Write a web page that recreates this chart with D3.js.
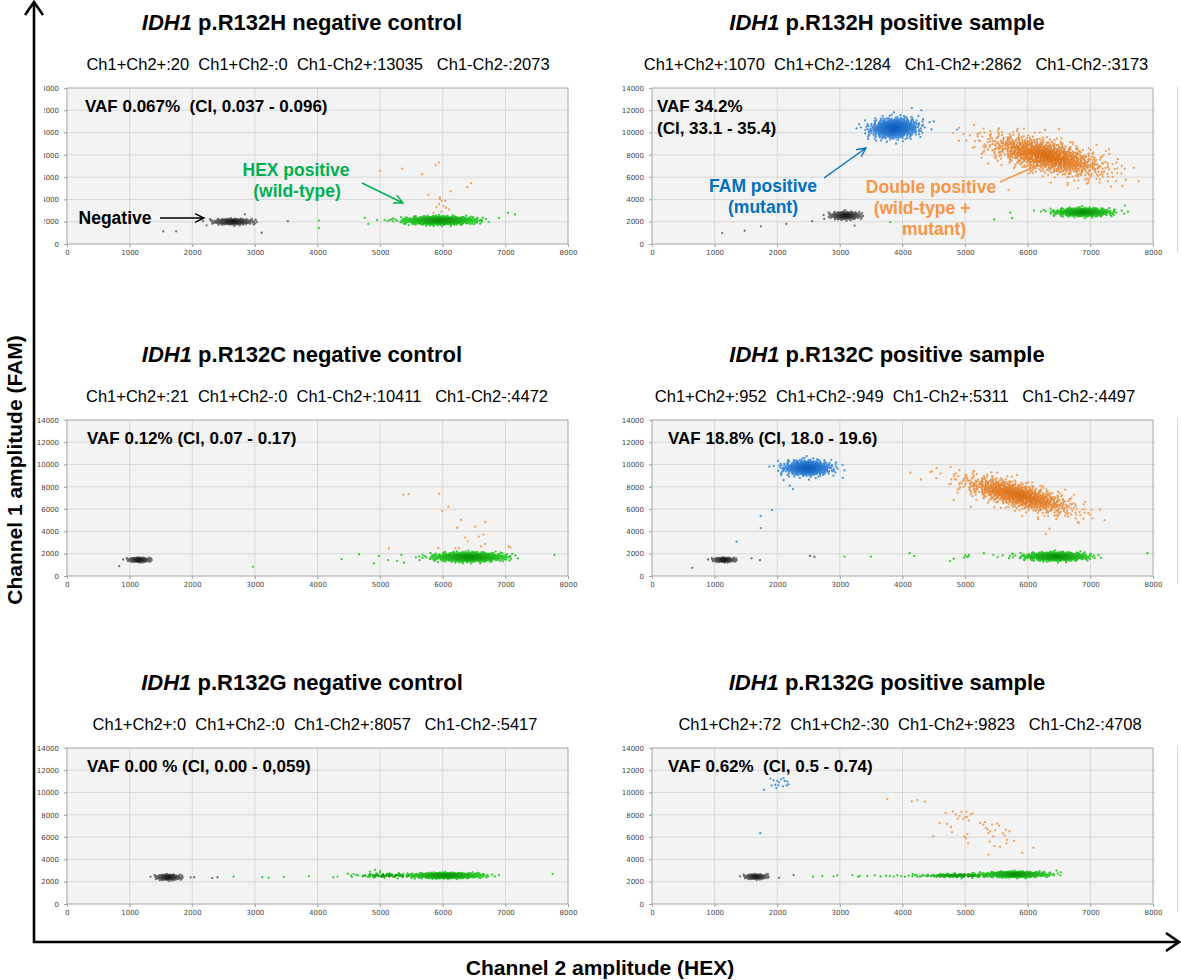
<!DOCTYPE html>
<html>
<head>
<meta charset="utf-8">
<script src="https://cdn.jsdelivr.net/npm/d3@7"></script>
<style>
  body { margin: 0; background: #fff; }
  svg text { font-family: "Liberation Sans", Arial, Helvetica, sans-serif; }
</style>
</head>
<body>
<script>
//panels are listed row by row, left (negative control) then right (positive sample)
var gene = "IDH1";
var variants = ["p.R132H negative control", "p.R132H positive sample",
                "p.R132C negative control", "p.R132C positive sample",
                "p.R132G negative control", "p.R132G positive sample"];
var counts = ["Ch1+Ch2+:20  Ch1+Ch2-:0  Ch1-Ch2+:13035   Ch1-Ch2-:2073",
              "Ch1+Ch2+:1070  Ch1+Ch2-:1284   Ch1-Ch2+:2862   Ch1-Ch2-:3173",
              "Ch1+Ch2+:21  Ch1+Ch2-:0  Ch1-Ch2+:10411   Ch1-Ch2-:4472",
              "Ch1+Ch2+:952  Ch1+Ch2-:949  Ch1-Ch2+:5311   Ch1-Ch2-:4497",
              "Ch1+Ch2+:0  Ch1+Ch2-:0  Ch1-Ch2+:8057   Ch1-Ch2-:5417",
              "Ch1+Ch2+:72  Ch1+Ch2-:30  Ch1-Ch2+:9823   Ch1-Ch2-:4708"];
var vafText = [["VAF 0.067%  (CI, 0.037 - 0.096)"],
               ["VAF 34.2%", "(CI, 33.1 - 35.4)"],
               ["VAF 0.12% (CI, 0.07 - 0.17)"],
               ["VAF 18.8% (CI, 18.0 - 19.6)"],
               ["VAF 0.00 % (CI, 0.00 - 0,059)"],
               ["VAF 0.62%  (CI, 0.5 - 0.74)"]];
var xTicks = [0, 1000, 2000, 3000, 4000, 5000, 6000, 7000, 8000];
var yTicks = [0, 2000, 4000, 6000, 8000, 10000, 12000, 14000];

//dense droplet clouds: panel, type, centre HEX, centre FAM, spread HEX, spread FAM, droplets drawn, tilt
var clusters = [
  [0, "neg", 2650, 2000, 150, 120, 380, 0],
  [0, "hex", 5950, 2100, 250, 160, 1400, 0],
  [1, "neg", 3090, 2550, 110, 150, 420, 0],
  [1, "fam", 3870, 10400, 190, 440, 700, 0.3],
  [1, "dp", 6300, 7900, 470, 720, 1150, -1.2],
  [1, "hex", 6880, 2850, 210, 170, 700, 0],
  [2, "neg", 1150, 1450, 80, 85, 330, 0],
  [2, "hex", 6420, 1700, 250, 180, 1300, 0],
  [3, "neg", 1150, 1450, 80, 85, 330, 0],
  [3, "fam", 2480, 9700, 190, 330, 600, 0],
  [3, "dp", 5850, 7250, 440, 560, 1000, -1.35],
  [3, "hex", 6450, 1750, 230, 170, 900, 0],
  [4, "neg", 1620, 2400, 90, 110, 330, 0],
  [4, "hex", 6050, 2550, 250, 105, 1100, 0],
  [4, "hex", 5100, 2550, 250, 90, 70, 0],
  [5, "neg", 1660, 2450, 80, 95, 280, 0],
  [5, "hex", 5800, 2650, 230, 110, 900, 0],
  [5, "hex", 4900, 2550, 300, 80, 130, 0]
];

//single droplets read one by one: panel, type, HEX, FAM
var droplets = [
  [0,"neg",1537,1130],[0,"neg",1743,1130],[0,"neg",2229,1680],[0,"neg",3109,1010],[0,"neg",3526,2045],[0,"neg",2840,2650],
  [0,"hex",4023,2100],[0,"hex",4023,1430],[0,"hex",4754,2350],[0,"hex",4811,1800],[0,"hex",5183,2200],[0,"hex",5070,2150],
  [0,"hex",7040,2800],[0,"hex",7154,2650],[0,"hex",6897,2350],[0,"hex",4950,2150],[0,"hex",5120,2050],
  [0,"dp",5000,6560],[0,"dp",5354,6770],[0,"dp",5669,6260],[0,"dp",5886,7090],[0,"dp",5937,7300],[0,"dp",6126,4730],
  [0,"dp",6451,5460],[0,"dp",6394,5100],[0,"dp",5771,4400],[0,"dp",5954,4180],[0,"dp",5983,3880],[0,"dp",6040,3880],
  [0,"dp",5943,3570],[0,"dp",6011,3420],[0,"dp",6051,3260],[0,"dp",5954,4030],[0,"dp",5900,3300],[0,"dp",5980,2900],
  [0,"dp",6100,3100],[0,"dp",5850,2800],
  [1,"neg",1120,980],[1,"neg",1480,1190],[1,"neg",1738,1590],[1,"neg",2145,1800],[1,"neg",2558,2050],[1,"neg",3235,1650],[1,"neg",2750,2250],
  [1,"fam",1767,3790],[1,"fam",4871,10270],[1,"fam",4500,11000],[1,"fam",4300,12000],[1,"fam",4150,12200],
  [1,"hex",3805,1960],[1,"hex",5464,2200],[1,"hex",5722,2810],[1,"hex",5752,2320],[1,"hex",7550,3450],[1,"hex",7600,2900],[1,"hex",6100,3000],
  [1,"dp",5692,4860],[1,"dp",5075,9755],[1,"dp",5200,9900],[1,"dp",5400,10100],[1,"dp",7500,7000],[1,"dp",7300,8500],
  [1,"dp",6500,10300],[1,"dp",7150,5500],[1,"dp",6800,5000],[1,"dp",5700,9400],
  [2,"neg",833,884],
  [2,"hex",2970,820],[2,"hex",4383,1520],[2,"hex",4665,1950],[2,"hex",4900,1130],[2,"hex",4980,1800],[2,"hex",5130,1430],
  [2,"hex",5272,1340],[2,"hex",5340,1890],[2,"hex",5380,1190],[2,"hex",7783,1890],[2,"hex",5570,1680],[2,"hex",5630,1430],
  [2,"dp",5370,7290],[2,"dp",5457,7350],[2,"dp",5945,7380],[2,"dp",6089,6220],[2,"dp",5990,5850],[2,"dp",6290,5030],
  [2,"dp",6230,4330],[2,"dp",6355,3450],[2,"dp",6520,4420],[2,"dp",6680,4850],[2,"dp",6575,3540],[2,"dp",6650,3720],
  [2,"dp",6400,3110],[2,"dp",5930,2500],[2,"dp",5140,2470],[2,"dp",6200,2500],[2,"dp",6260,2500],[2,"dp",6675,2870],
  [2,"dp",6610,2650],[2,"dp",7050,2650],[2,"dp",7080,2560],
  [3,"neg",643,730],[3,"neg",1590,1590],[3,"neg",1724,1430],[3,"neg",2523,1800],[3,"neg",2595,1710],
  [3,"fam",1351,3080],[3,"fam",1735,4300],[3,"fam",1735,5370],[3,"fam",1916,5915],[3,"fam",3045,8810],[3,"fam",2100,8600],
  [3,"fam",2200,8100],[3,"fam",2250,7800],
  [3,"hex",3075,1740],[3,"hex",3495,1740],[3,"hex",4114,2040],[3,"hex",4186,1800],[3,"hex",4757,1340],[3,"hex",4817,1550],
  [3,"hex",5300,2040],[3,"hex",7910,2040],[3,"hex",5000,1850],[3,"hex",5030,1700],[3,"hex",5060,1900],[3,"hex",5050,1750],
  [3,"hex",4980,1650],[3,"hex",5450,1900],[3,"hex",5520,1700],[3,"hex",5600,1850],[3,"hex",5700,1600],[3,"hex",5750,2000],
  [3,"dp",4126,9270],[3,"dp",4294,8660],[3,"dp",4474,9390],[3,"dp",4817,6830],[3,"dp",5087,6220],[3,"dp",6288,3780],
  [3,"dp",6348,4240],[3,"dp",6800,4800],[3,"dp",7000,5500],
  [4,"neg",1974,2385],[4,"neg",2031,2400],[4,"neg",2318,2324],[4,"neg",2403,2400],
  [4,"hex",2661,2450],[4,"hex",3119,2400],[4,"hex",3220,2350],[4,"hex",3462,2420],[4,"hex",3863,2480],[4,"hex",4252,2400],
  [4,"hex",4320,2460],[4,"hex",4578,2690],[4,"hex",4721,2500],[4,"hex",4835,2900],[4,"hex",4921,3060],[4,"hex",4996,2800],
  [4,"hex",5064,2500],[4,"hex",5150,2750],[4,"hex",5236,2550],[4,"hex",5350,2450],[4,"hex",7754,2690],[4,"hex",6896,2600],
  [4,"hex",4650,2550],[4,"hex",4900,2600],[4,"hex",5000,2950],[4,"hex",5200,2450],[4,"hex",5300,2600],
  [5,"neg",2030,2350],[5,"neg",2260,2600],[5,"neg",1850,2700],
  [5,"hex",2569,2450],[5,"hex",2719,2520],[5,"hex",2899,2480],[5,"hex",2959,2560],[5,"hex",3199,2600],[5,"hex",3289,2450],
  [5,"hex",3319,2520],[5,"hex",3439,2500],[5,"hex",3559,2560],[5,"hex",3649,2470],[5,"hex",3739,2540],[5,"hex",3799,2500],
  [5,"hex",3859,2460],[5,"hex",3919,2580],[5,"hex",3979,2500],[5,"hex",4039,2450],[5,"hex",4099,2540],[5,"hex",4159,2490],
  [5,"hex",4219,2600],[5,"hex",4279,2470],[5,"hex",4339,2550],[5,"hex",4399,2480],[5,"hex",4489,2620],[5,"hex",4549,2500],
  [5,"hex",4609,2700],[5,"hex",4669,2560],[5,"hex",4729,2480],[5,"hex",4789,2640],[5,"hex",4849,2520],[5,"hex",4909,2580],
  [5,"hex",4999,2690],[5,"hex",5059,2540],[5,"hex",5119,2620],[5,"hex",5179,2480],[5,"hex",5239,2580],[5,"hex",6460,3000],
  [5,"hex",6530,2840],
  [5,"fam",1891,11254],[5,"fam",1939,11100],[5,"fam",1999,11050],[5,"fam",2059,11190],[5,"fam",2119,11040],[5,"fam",2161,10980],
  [5,"fam",1909,10640],[5,"fam",1969,10700],[5,"fam",2017,10650],[5,"fam",2089,10550],[5,"fam",2149,10640],[5,"fam",1789,10244],
  [5,"fam",2179,10730],[5,"fam",1987,10400],[5,"fam",2029,10920],[5,"fam",2100,11300],[5,"fam",1729,6360],
  [5,"dp",3758,9420],[5,"dp",4148,9200],[5,"dp",4238,9330],[5,"dp",4358,9180],[5,"dp",4490,6060],[5,"dp",4592,7280],
  [5,"dp",4688,8170],[5,"dp",4712,7190],[5,"dp",4772,6910],[5,"dp",4790,6450],[5,"dp",4808,8290],[5,"dp",4850,8040],
  [5,"dp",4880,7650],[5,"dp",4910,7890],[5,"dp",4940,8290],[5,"dp",4970,7620],[5,"dp",5000,7800],[5,"dp",5018,8290],
  [5,"dp",5030,7800],[5,"dp",5060,7500],[5,"dp",5090,8040],[5,"dp",5120,8140],[5,"dp",4988,6060],[5,"dp",5012,5900],
  [5,"dp",5036,6270],[5,"dp",5048,5440],[5,"dp",5240,7280],[5,"dp",5288,7130],[5,"dp",5318,7340],[5,"dp",5330,6820],
  [5,"dp",5360,6670],[5,"dp",5372,6360],[5,"dp",5402,6510],[5,"dp",5432,7130],[5,"dp",5480,6610],[5,"dp",5510,7220],
  [5,"dp",5540,7040],[5,"dp",5450,6060],[5,"dp",5390,5600],[5,"dp",5372,4440],[5,"dp",5468,5200],[5,"dp",5558,5140],
  [5,"dp",5600,6360],[5,"dp",5630,6150],[5,"dp",5648,6670],[5,"dp",5672,5750],[5,"dp",5708,6510],[5,"dp",5660,5440],
  [5,"dp",5780,5660],[5,"dp",5912,4590],[5,"dp",6092,5050]
];

//core and rim colours of each droplet type
var dropColor = {
  neg: ["#161616", "#707070"],
  hex: ["#0c920c", "#33cc33"],
  fam: ["#0b5cbc", "#4a93e0"],
  dp:  ["#d96d12", "#f0a25e"]
};

var colLeft = [67, 652];
var rowTop = [88, 420, 748];
var plotW = 501, plotH = 156;
var countCentre = [251, 244, 250, 243, 248, 258];
var vafLeft = [18, 5, 20, 16, 20, 16];

var svg = d3.select("body").append("svg")
            .attr("width", 1181)
            .attr("height", 980);

function initialize(){
  drawFrame();
  for (var i=0; i<variants.length; i++) {
    drawPanel(i);
  };
  drawNotes();
};

//radical inverse, used to spread the droplets of a cloud evenly
function halton(i, b){
  var f = 1, r = 0;
  while (i > 0) {
    f = f / b;
    r = r + f * (i % b);
    i = Math.floor(i / b);
  };
  return r;
};

function drawFrame(){
  var frame = svg.append("g");
  frame.append("path")
       .attr("d", "M34,943 L34,2 M25,15 L34,2 L43,15")
       .attr("fill", "none").attr("stroke", "#000").attr("stroke-width", 2.6);
  frame.append("path")
       .attr("d", "M33,942 L1179,942 M1166,933 L1179,942 L1166,951")
       .attr("fill", "none").attr("stroke", "#000").attr("stroke-width", 2.6);
  frame.append("text")
       .attr("transform", "translate(22,470) rotate(-90)")
       .attr("text-anchor", "middle")
       .style("font-size", "21px").style("font-weight", "bold")
       .text("Channel 1 amplitude (FAM)");
  frame.append("text")
       .attr("x", 600).attr("y", 975)
       .attr("text-anchor", "middle")
       .style("font-size", "21px").style("font-weight", "bold")
       .text("Channel 2 amplitude (HEX)");
};

function drawPanel(i){
  var col = i % 2, row = Math.floor(i / 2);
  var left = colLeft[col], top = rowTop[row];

  var x = d3.scaleLinear().domain([0, 8000]).range([0, plotW]);
  var y = d3.scaleLinear().domain([0, 14000]).range([plotH, 0]);

  //title with italic gene name
  var title = svg.append("text")
                 .attr("x", left + 235).attr("y", top - 58)
                 .attr("text-anchor", "middle")
                 .style("font-size", "22px").style("font-weight", "bold");
  title.append("tspan").style("font-style", "italic").text(gene);
  title.append("tspan").text(" " + variants[i]);

  svg.append("text")
     .attr("x", left + countCentre[i]).attr("y", top - 18)
     .attr("text-anchor", "middle")
     .style("font-size", "16.5px").style("white-space", "pre")
     .text(counts[i]);

  var g = svg.append("g").attr("transform", "translate(" + left + "," + top + ")");

  g.append("rect")
   .attr("width", plotW).attr("height", plotH)
   .attr("fill", "#f3f3f3");

  //grid
  g.selectAll(".gx").data(xTicks.slice(1, -1)).enter().append("line")
   .attr("x1", function(d) { return x(d) }).attr("x2", function(d) { return x(d) })
   .attr("y1", 0).attr("y2", plotH + 3)
   .attr("stroke", "#d9d9d9");
  g.selectAll(".gy").data(yTicks.slice(1, -1)).enter().append("line")
   .attr("x1", -3).attr("x2", plotW + 2)
   .attr("y1", function(d) { return y(d) }).attr("y2", function(d) { return y(d) })
   .attr("stroke", "#d9d9d9");

  var xAxis = g.append("g")
               .attr("transform", "translate(0," + plotH + ")")
               .call(d3.axisBottom(x).tickValues(xTicks).tickSize(3).tickPadding(3).tickFormat(d3.format("d")));
  var yAxis = g.append("g")
               .call(d3.axisLeft(y).tickValues(yTicks).tickSize(3).tickPadding(5).tickFormat(d3.format("d")));
  [xAxis, yAxis].forEach(function(a) {
    a.select(".domain").remove();
    a.selectAll("line").attr("stroke", "#a6a6a6");
    a.selectAll("text").style("font-size", "7px").attr("fill", "#444")
     .style("font-family", "'DejaVu Sans', sans-serif");
  });

  //the top-left panel's labels are cut by the big axis
  if (i == 0) {
    svg.append("clipPath").attr("id", "cutLabels")
       .append("rect").attr("x", -left + 44).attr("y", -20).attr("width", 100).attr("height", plotH + 40);
    yAxis.attr("clip-path", "url(#cutLabels)");
  };

  g.append("rect")
   .attr("width", plotW).attr("height", plotH)
   .attr("fill", "none").attr("stroke", "#a6a6a6");

  if (col == 1) {
    svg.append("line")
       .attr("x1", 1177.5).attr("x2", 1177.5)
       .attr("y1", top - 2).attr("y2", top + plotH + 8)
       .attr("stroke", "#d4d4d4");
  };

  //droplets of the dense clouds
  var points = [];
  clusters.forEach(function(c) {
    if (c[0] != i) return;
    var paint = d3.interpolateRgb(dropColor[c[1]][0], dropColor[c[1]][1]);
    for (var k=1; k<=c[6]; k++) {
      var r = Math.min(3.2, Math.sqrt(-2 * Math.log(halton(k, 2))));
      var a = 2 * Math.PI * halton(k, 3);
      var dx = c[4] * r * Math.cos(a);
      var dy = c[5] * r * Math.sin(a);
      points.push({hex: c[2] + dx, fam: c[3] + dy + c[7] * dx, r: r, color: paint(Math.min(1, r / 2.2))});
    };
  });
  droplets.forEach(function(d) {
    if (d[0] == i) points.push({hex: d[2], fam: d[3], r: 9, color: dropColor[d[1]][1]});
  });
  points.sort(function(a, b) { return b.r - a.r });

  g.append("g").selectAll("circle")
   .data(points).enter().append("circle")
   .attr("cx", function(d) { return x(d.hex) })
   .attr("cy", function(d) { return y(d.fam) })
   .attr("r", 1.15)
   .attr("fill", function(d) { return d.color });

  //VAF label
  var vaf = g.append("text")
             .attr("x", vafLeft[i]).attr("y", 24)
             .style("font-size", "17px").style("font-weight", "bold").style("white-space", "pre");
  vafText[i].forEach(function(t, n) {
    vaf.append("tspan").attr("x", vafLeft[i]).attr("dy", n == 0 ? 0 : 22).text(t);
  });
};

//hand-drawn call-outs of the first row
function drawNotes(){
  var notes = [
    {color: "#000000", lines: ["Negative"], shift: [0], x: 115, y: 224, arrow: [160, 218, 204, 218]},
    {color: "#00b050", lines: ["HEX positive", "(wild-type)"], shift: [0, 1], x: 296, y: 176, arrow: [362, 183, 403, 203]},
    {color: "#0070c0", lines: ["FAM positive", "(mutant)"], shift: [0, 0], x: 763, y: 192, arrow: [824, 178, 866, 148]},
    {color: "#f79646", lines: ["Double positive", "(wild-type +", "mutant)"], shift: [0, -9, 3], x: 931, y: 193, arrow: [1000, 182, 1036, 166]}
  ];
  notes.forEach(function(n) {
    var t = svg.append("text")
               .attr("text-anchor", "middle")
               .attr("fill", n.color)
               .style("font-size", "17.5px").style("font-weight", "bold");
    n.lines.forEach(function(l, k) {
      t.append("tspan").attr("x", n.x + n.shift[k])
       .attr("y", n.y + k * 21).text(l);
    });
    var a = n.arrow;
    var ang = Math.atan2(a[3] - a[1], a[2] - a[0]);
    var head = function(s) {
      return [a[2] - 10 * Math.cos(ang + s), a[3] - 10 * Math.sin(ang + s)];
    };
    var h1 = head(0.45), h2 = head(-0.45);
    svg.append("path")
       .attr("d", "M" + a[0] + "," + a[1] + " L" + a[2] + "," + a[3] +
                  " M" + h1[0] + "," + h1[1] + " L" + a[2] + "," + a[3] + " L" + h2[0] + "," + h2[1])
       .attr("fill", "none").attr("stroke", n.color).attr("stroke-width", 1.4);
  });
};

//begin drawing once everything is defined
window.onload = initialize();
</script>
</body>
</html>
